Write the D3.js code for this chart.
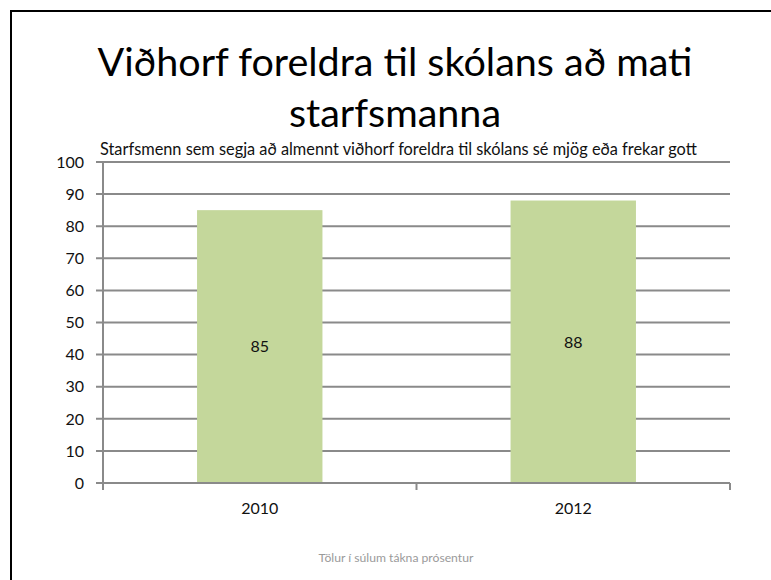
<!DOCTYPE html>
<html>
<head>
<meta charset="utf-8">
<script src="https://cdn.jsdelivr.net/npm/d3@7"></script>
<style>
  html, body { margin: 0; padding: 0; background: #fff; }
  svg { display: block; font-family: Lato, "Open Sans", sans-serif; }
</style>
</head>
<body>
<svg id="chart" width="771" height="580"></svg>
<script>
// Chart data
const years = ["2010", "2012"];
const shares = [85, 88];
const yTicks = [0, 10, 20, 30, 40, 50, 60, 70, 80, 90, 100];
const titleLines = ["Viðhorf foreldra til skólans að mati", "starfsmanna"];
const subtitle = "Starfsmenn sem segja að almennt viðhorf foreldra til skólans sé mjög eða frekar gott";
const footnote = "Tölur í súlum tákna prósentur";

const svg = d3.select("#chart");

// Slide frame (top and left edges visible)
svg.append("path")
  .attr("d", "M11,580 V11 H771")
  .attr("fill", "none")
  .attr("stroke", "#000")
  .attr("stroke-width", 2);

// Plot area
const plotLeft = 103, plotRight = 730, plotTop = 162, plotBottom = 483;
const x = d3.scaleBand().domain(years).range([plotLeft, plotRight]).paddingInner(0.6).paddingOuter(0.3);
const y = d3.scaleLinear().domain([0, 100]).range([plotBottom, plotTop]);

const gridColor = "#8a8a8a";

// Horizontal gridlines with left tick marks
svg.append("g").selectAll("line")
  .data(yTicks)
  .join("line")
  .attr("x1", plotLeft - 7)
  .attr("x2", plotRight)
  .attr("y1", d => y(d))
  .attr("y2", d => y(d))
  .attr("stroke", gridColor)
  .attr("stroke-width", 2);

// Y axis line
svg.append("line")
  .attr("x1", plotLeft).attr("x2", plotLeft)
  .attr("y1", plotTop).attr("y2", plotBottom)
  .attr("stroke", gridColor).attr("stroke-width", 2);

// Y tick labels
svg.append("g").selectAll("text")
  .data(yTicks)
  .join("text")
  .attr("x", 84)
  .attr("y", d => y(d))
  .attr("dy", "0.36em")
  .attr("text-anchor", "end")
  .attr("font-size", 16)
  .attr("fill", "#111")
  .text(d => d);

// Bars
const barData = years.map((yr, i) => ({ yr, v: shares[i] }));
svg.append("g").selectAll("rect")
  .data(barData)
  .join("rect")
  .attr("x", d => x(d.yr))
  .attr("width", x.bandwidth())
  .attr("y", d => y(d.v))
  .attr("height", d => y(0) - y(d.v))
  .attr("fill", "#c4d79b");

// Value labels centred in each bar
svg.append("g").selectAll("text")
  .data(barData)
  .join("text")
  .attr("x", d => x(d.yr) + x.bandwidth() / 2)
  .attr("y", d => (y(d.v) + y(0)) / 2)
  .attr("dy", "0.36em")
  .attr("text-anchor", "middle")
  .attr("font-size", 16)
  .attr("fill", "#111")
  .text(d => d.v);

// X axis baseline and category separators
svg.append("line")
  .attr("x1", plotLeft - 7).attr("x2", plotRight)
  .attr("y1", plotBottom).attr("y2", plotBottom)
  .attr("stroke", gridColor).attr("stroke-width", 2);

const step = x.step();
const sepX = [plotLeft, plotLeft + step, plotLeft + 2 * step];
svg.append("g").selectAll("line")
  .data(sepX)
  .join("line")
  .attr("x1", d => d).attr("x2", d => d)
  .attr("y1", plotBottom).attr("y2", plotBottom + 7)
  .attr("stroke", gridColor).attr("stroke-width", 2);

// X labels
svg.append("g").selectAll("text")
  .data(years)
  .join("text")
  .attr("x", d => x(d) + x.bandwidth() / 2)
  .attr("y", 514)
  .attr("text-anchor", "middle")
  .attr("font-size", 16)
  .attr("fill", "#111")
  .text(d => d);

// Scale a text's font size so it spans the given width
function fitText(sel, width) {
  const w = sel.node().getComputedTextLength();
  const fs = parseFloat(sel.attr("font-size"));
  sel.attr("font-size", fs * width / w);
}

// Title
const t1 = svg.append("text")
  .attr("x", 395).attr("y", 76)
  .attr("text-anchor", "middle")
  .attr("font-size", 40)
  .attr("fill", "#000")
  .text(titleLines[0]);
fitText(t1, 595);
svg.append("text")
  .attr("x", 395).attr("y", 127)
  .attr("text-anchor", "middle")
  .attr("font-size", t1.attr("font-size"))
  .attr("fill", "#000")
  .text(titleLines[1]);

// Subtitle above the plot
const st = svg.append("text")
  .attr("x", 100).attr("y", 155)
  .attr("font-size", 13)
  .attr("fill", "#111")
  .text(subtitle);
fitText(st, 597);

// Footnote
const fn = svg.append("text")
  .attr("x", 396).attr("y", 562)
  .attr("text-anchor", "middle")
  .attr("font-size", 10)
  .attr("fill", "#9a9a9a")
  .text(footnote);
fitText(fn, 155);
</script>
</body>
</html>
